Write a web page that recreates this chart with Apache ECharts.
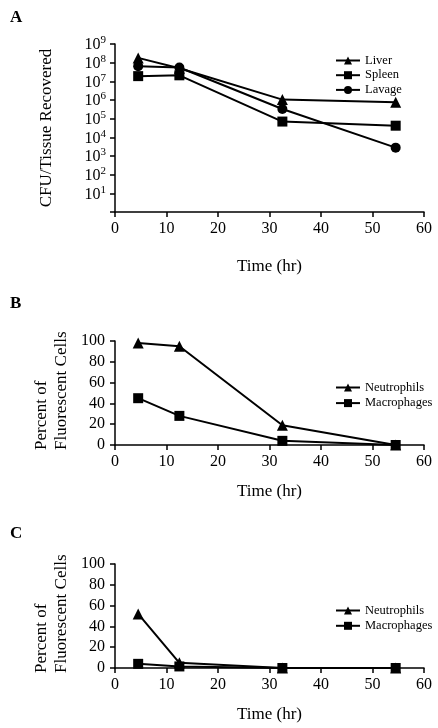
<!DOCTYPE html>
<html>
<head>
<meta charset="utf-8">
<script src="https://cdn.jsdelivr.net/npm/echarts@6/dist/echarts.min.js"></script>
<style>html,body{margin:0;padding:0;background:#fff}#c{width:438px;height:728px}</style>
</head>
<body>
<div id="c"></div>
<script>
// ---- data ----
const hours = [4.5, 12.5, 32.5, 54.5];
const xTicks = [0, 10, 20, 30, 40, 50, 60];
const cfuDecades = [1, 2, 3, 4, 5, 6, 7, 8, 9];
const liverA = [1.8e8, 5e7, 1.05e6, 7.5e5];
const spleenA = [1.9e7, 2.1e7, 7e4, 4.2e4];
const lavageA = [6.5e7, 5.5e7, 3.3e5, 2.8e3];
const neutroB = [98, 95, 19, 0];
const macroB = [45, 28, 4, 0];
const neutroC = [52, 5, 0, 0];
const macroC = [4, 1.5, 0, 0];
const pctTicks = [0, 20, 40, 60, 80, 100];

const pairs = v => hours.map((h, i) => [h, v[i]]);
const FONT = '"Liberation Serif", "Times New Roman", serif';
const black = '#000';

const gridsDef = [
  {left: 115, right: 14, top: 44, height: 168},
  {left: 115, right: 14, top: 341, height: 104},
  {left: 115, right: 14, top: 564, height: 104}
];

function xAxis(i, gap) {
  return {
    gridIndex: i, type: 'value', min: xTicks[0], max: xTicks[xTicks.length - 1], interval: 10,
    axisLine: {lineStyle: {color: black, width: 1.5}},
    axisTick: {show: true, length: 5, lineStyle: {color: black, width: 1.5}},
    axisLabel: {color: black, fontFamily: FONT, fontSize: 16, margin: 9},
    splitLine: {show: false},
    name: 'Time (hr)', nameLocation: 'middle', nameGap: gap,
    nameTextStyle: {color: black, fontFamily: FONT, fontSize: 17}
  };
}

const yA = {
  gridIndex: 0, type: 'log', logBase: 10, min: 1, max: Math.pow(10, cfuDecades[cfuDecades.length - 1]),
  axisLine: {show: true, lineStyle: {color: black, width: 1.5}},
  axisTick: {show: true, length: 5, lineStyle: {color: black, width: 1.5}},
  splitLine: {show: false},
  minorTick: {show: false},
  axisLabel: {
    margin: 9,
    formatter: function (v) {
      const e = Math.round(Math.log10(v));
      if (cfuDecades.indexOf(e) < 0) return '';
      return '{b|10}{s|' + e + '}';
    },
    rich: {
      b: {fontFamily: FONT, fontSize: 16, color: black, lineHeight: 18, verticalAlign: 'bottom'},
      s: {fontFamily: FONT, fontSize: 11, color: black, lineHeight: 18, verticalAlign: 'top', padding: [0, 0, 6, 0]}
    }
  },
  name: 'CFU/Tissue Recovered', nameLocation: 'middle', nameGap: 60, nameRotate: 90,
  nameTextStyle: {color: black, fontFamily: FONT, fontSize: 17}
};

function yPct(i) {
  return {
    gridIndex: i, type: 'value', min: pctTicks[0], max: pctTicks[pctTicks.length - 1], interval: 20,
    axisLine: {show: true, lineStyle: {color: black, width: 1.5}},
    axisTick: {show: true, length: 5, lineStyle: {color: black, width: 1.5}},
    splitLine: {show: false},
    axisLabel: {color: black, fontFamily: FONT, fontSize: 16, margin: 10}
  };
}

function line(name, data, sym, xi, size) {
  return {
    name: name, type: 'line', xAxisIndex: xi, yAxisIndex: xi, data: data,
    symbol: sym, symbolSize: size || 10, showSymbol: true,
    lineStyle: {color: black, width: 2}, itemStyle: {color: black},
    emphasis: {disabled: true}, animation: false, z: 3
  };
}

function legend(names, top, gap) {
  return {
    orient: 'vertical', left: 335, top: top, padding: 0, itemWidth: 24, itemHeight: 10, itemGap: gap,
    data: names, selectedMode: false,
    textStyle: {color: black, fontFamily: FONT, fontSize: 12.5},
    itemStyle: {color: black}
  };
}

const nameStyle = {fill: black, font: '17px ' + FONT, align: 'left', verticalAlign: 'middle', lineHeight: 20};

const chart = echarts.init(document.getElementById('c'), null, {renderer: 'canvas'});
chart.setOption({
  animation: false,
  backgroundColor: '#fff',
  title: [
    {text: 'A', left: 5, top: 4, textStyle: {fontFamily: FONT, fontWeight: 'bold', fontSize: 17, color: black}},
    {text: 'B', left: 5, top: 290, textStyle: {fontFamily: FONT, fontWeight: 'bold', fontSize: 17, color: black}},
    {text: 'C', left: 5, top: 520, textStyle: {fontFamily: FONT, fontWeight: 'bold', fontSize: 17, color: black}}
  ],
  grid: gridsDef,
  xAxis: [xAxis(0, 46), xAxis(1, 38), xAxis(2, 38)],
  yAxis: [yA, yPct(1), yPct(2)],
  legend: [
    legend(['Liver', 'Spleen', 'Lavage'], 54, 1.7),
    legend(['Neutrophils', 'Macrophages'], 381, 2.6),
    legend(['Neutrophils', 'Macrophages'], 604, 2.3)
  ],
  graphic: [
    {type: 'text', x: 52, y: 450, rotation: Math.PI / 2, style: Object.assign({text: 'Percent of\nFluorescent Cells'}, nameStyle)},
    {type: 'text', x: 52, y: 673, rotation: Math.PI / 2, style: Object.assign({text: 'Percent of\nFluorescent Cells'}, nameStyle)}
  ],
  series: [
    line('Liver', pairs(liverA), 'triangle', 0, 11),
    line('Spleen', pairs(spleenA), 'rect', 0, 10),
    line('Lavage', pairs(lavageA), 'circle', 0, 10),
    line('Neutrophils', pairs(neutroB), 'triangle', 1, 11),
    line('Macrophages', pairs(macroB), 'rect', 1, 10),
    line('Neutrophils', pairs(neutroC), 'triangle', 2, 11),
    line('Macrophages', pairs(macroC), 'rect', 2, 10)
  ]
});
</script>
</body>
</html>
